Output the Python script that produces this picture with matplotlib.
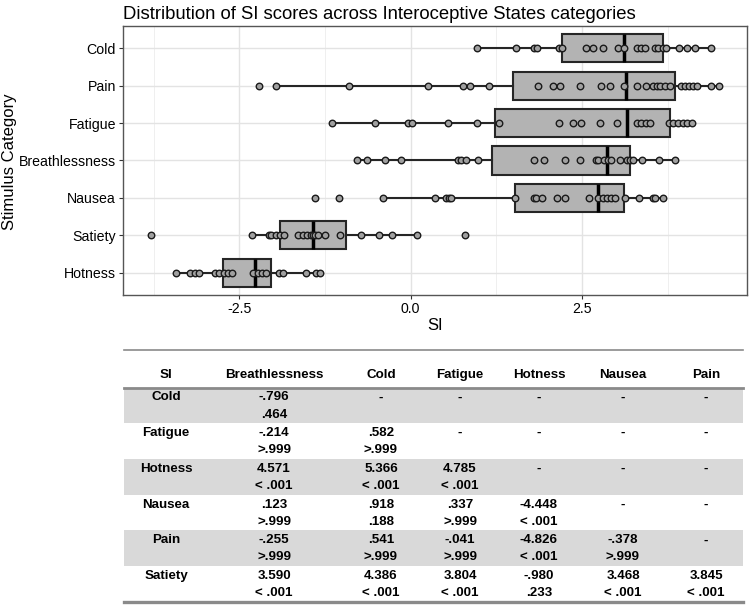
import numpy as np
import matplotlib
matplotlib.use('Agg')
import matplotlib.pyplot as plt

plt.rcParams['font.family'] = ['Liberation Sans', 'DejaVu Sans']

# categories, bottom to top as drawn
categories = ['Hotness', 'Satiety', 'Nausea', 'Breathlessness', 'Fatigue', 'Pain', 'Cold']

# individual SI scores
si_points = {
    'Cold': [0.97, 1.54, 1.80, 1.85, 2.16, 2.21, 2.56, 2.66, 2.81, 3.03, 3.11, 3.30, 3.36,
             3.42, 3.56, 3.61, 3.68, 3.73, 3.92, 4.04, 4.15, 4.38],
    'Pain': [-2.22, -1.96, -0.90, 0.25, 0.76, 0.86, 1.14, 1.86, 2.08, 2.18, 2.47, 2.78, 2.91,
             3.11, 3.30, 3.44, 3.54, 3.59, 3.64, 3.71, 3.78, 3.95, 4.00, 4.06, 4.12, 4.18,
             4.39, 4.50],
    'Fatigue': [-1.15, -0.52, -0.04, 0.02, 0.54, 0.97, 1.29, 2.17, 2.37, 2.49, 2.77, 3.01,
                3.30, 3.36, 3.43, 3.49, 3.77, 3.83, 3.90, 3.97, 4.03, 4.10],
    'Breathlessness': [-0.78, -0.64, -0.38, -0.14, 0.69, 0.73, 0.81, 0.98, 1.80, 1.95, 2.26,
                       2.47, 2.70, 2.73, 2.82, 2.88, 2.93, 3.05, 3.16, 3.20, 3.25, 3.38,
                       3.62, 3.86],
    'Nausea': [-1.40, -1.05, -0.40, 0.36, 0.52, 0.56, 0.59, 1.53, 1.80, 1.83, 1.91, 2.14,
               2.26, 2.61, 2.74, 2.81, 2.87, 2.92, 2.98, 3.13, 3.33, 3.54, 3.57, 3.68],
    'Satiety': [-3.79, -2.32, -2.07, -2.04, -1.96, -1.91, -1.85, -1.65, -1.57, -1.51, -1.46,
                -1.43, -1.40, -1.35, -1.25, -1.03, -0.73, -0.46, -0.27, 0.09, 0.79],
    'Hotness': [-3.43, -3.22, -3.15, -3.09, -2.86, -2.80, -2.72, -2.67, -2.61, -2.30, -2.23,
                -2.17, -2.11, -1.92, -1.86, -1.53, -1.38, -1.33],
}

# box summary (same order as categories)
q1 = [-2.74, -1.91, 1.53, 1.19, 1.23, 1.50, 2.21]
med = [-2.28, -1.43, 2.73, 2.86, 3.16, 3.14, 3.11]
q3 = [-2.04, -0.95, 3.12, 3.20, 3.78, 3.86, 3.68]
whis_lo = [-3.43, -2.32, -0.40, -0.78, -1.15, -1.96, 0.97]
whis_hi = [-1.33, 0.09, 3.68, 3.86, 4.10, 4.50, 4.38]

# post-hoc table
col_names = ['Breathlessness', 'Cold', 'Fatigue', 'Hotness', 'Nausea', 'Pain']
row_names = ['Cold', 'Fatigue', 'Hotness', 'Nausea', 'Pain', 'Satiety']
t_vals = [
    ['-.796', '-', '-', '-', '-', '-'],
    ['-.214', '.582', '-', '-', '-', '-'],
    ['4.571', '5.366', '4.785', '-', '-', '-'],
    ['.123', '.918', '.337', '-4.448', '-', '-'],
    ['-.255', '.541', '-.041', '-4.826', '-.378', '-'],
    ['3.590', '4.386', '3.804', '-.980', '3.468', '3.845'],
]
p_vals = [
    ['.464', '', '', '', '', ''],
    ['>.999', '>.999', '', '', '', ''],
    ['< .001', '< .001', '< .001', '', '', ''],
    ['>.999', '.188', '>.999', '< .001', '', ''],
    ['>.999', '>.999', '>.999', '< .001', '>.999', ''],
    ['< .001', '< .001', '< .001', '.233', '< .001', '< .001'],
]

W, H = 749, 605
fig = plt.figure(figsize=(W / 100, H / 100), dpi=100)

# ---- boxplot panel ----
ax = fig.add_axes([123 / W, 1 - 295 / H, (747 - 123) / W, (295 - 26) / H])
positions = np.arange(1, len(categories) + 1)

stats = []
for i, c in enumerate(categories):
    stats.append(dict(q1=q1[i], med=med[i], q3=q3[i], whislo=whis_lo[i], whishi=whis_hi[i], label=c))

ax.bxp(stats, positions=positions, orientation='horizontal', widths=0.75, patch_artist=True,
       showcaps=False, showfliers=False,
       boxprops=dict(facecolor='#B3B3B3', edgecolor='#262626', linewidth=1.5),
       medianprops=dict(color='black', linewidth=2.5),
       whiskerprops=dict(color='#262626', linewidth=1.5))

for i, c in enumerate(categories):
    vals = si_points[c]
    ax.scatter(vals, np.full(len(vals), positions[i]), s=22, facecolor='#A0A0A0',
               edgecolor='#1a1a1a', linewidth=1.0, zorder=4)

ax.set_xlim(-4.20, 4.91)
ax.set_ylim(0.4, 7.6)
ax.set_xticks([-2.5, 0.0, 2.5])
ax.set_xticklabels(['-2.5', '0.0', '2.5'])
ax.set_xticks([-3.75, -1.25, 1.25, 3.75], minor=True)
ax.set_yticks(positions)
ax.set_yticklabels(categories)
ax.grid(True, which='major', color='#E3E3E3', linewidth=1.0, zorder=0)
ax.grid(True, which='minor', axis='x', color='#EDEDED', linewidth=0.6, zorder=0)
ax.set_axisbelow(True)
ax.tick_params(which='major', length=3, width=0.8, color='#333333', labelsize=10.2,
               labelcolor='black', pad=2)
ax.tick_params(which='minor', length=0)
for s in ax.spines.values():
    s.set_color('#555555')
    s.set_linewidth(1.0)

fig.text(123 / W, 1 - 19 / H, 'Distribution of SI scores across Interoceptive States categories',
         fontsize=13.3, ha='left', va='baseline')
fig.text(435 / W, 1 - 325 / H, 'SI', fontsize=12, ha='center', va='center')
fig.text(10 / W, 1 - 162 / H, 'Stimulus Category', fontsize=12, rotation=90,
         ha='center', va='center')

# ---- table ----
tax = fig.add_axes([0, 0, 1, 270 / H])
tax.set_xlim(0, W)
tax.set_ylim(H, H - 270)
tax.axis('off')

left, right = 124, 743
col_x = [166, 274, 381, 460, 539, 623, 706]
head_y = 375
row_top = 387.5
row_h = 35.7

for r in range(len(row_names)):
    y0 = row_top + r * row_h
    if r % 2 == 0:
        tax.fill_between([left, right], y0, y0 + row_h, color='#D9D9D9', linewidth=0, zorder=1)
    tax.text(col_x[0], y0 + 10, row_names[r], ha='center', va='center', fontsize=9.6,
             fontweight='bold', zorder=3)
    for c in range(len(col_names)):
        tax.text(col_x[c + 1], y0 + 10, t_vals[r][c], ha='center', va='center', fontsize=9.6,
                 fontweight='bold', zorder=3)
        if p_vals[r][c]:
            tax.text(col_x[c + 1], y0 + 27, p_vals[r][c], ha='center', va='center',
                     fontsize=9.6, fontweight='bold', zorder=3)

tax.text(col_x[0], head_y, 'SI', ha='center', va='center', fontsize=9.6, fontweight='bold')
for c, name in enumerate(col_names):
    tax.text(col_x[c + 1], head_y, name, ha='center', va='center', fontsize=9.6,
             fontweight='bold')

tax.plot([left, right], [349.5, 349.5], color='#8A8A8A', linewidth=1.2, zorder=2)
tax.plot([left, right], [387.5, 387.5], color='#8A8A8A', linewidth=2.0, zorder=2)
tax.plot([left, right], [601.5, 601.5], color='#8A8A8A', linewidth=2.4, zorder=2)

fig.savefig('out.png', dpi=100)
